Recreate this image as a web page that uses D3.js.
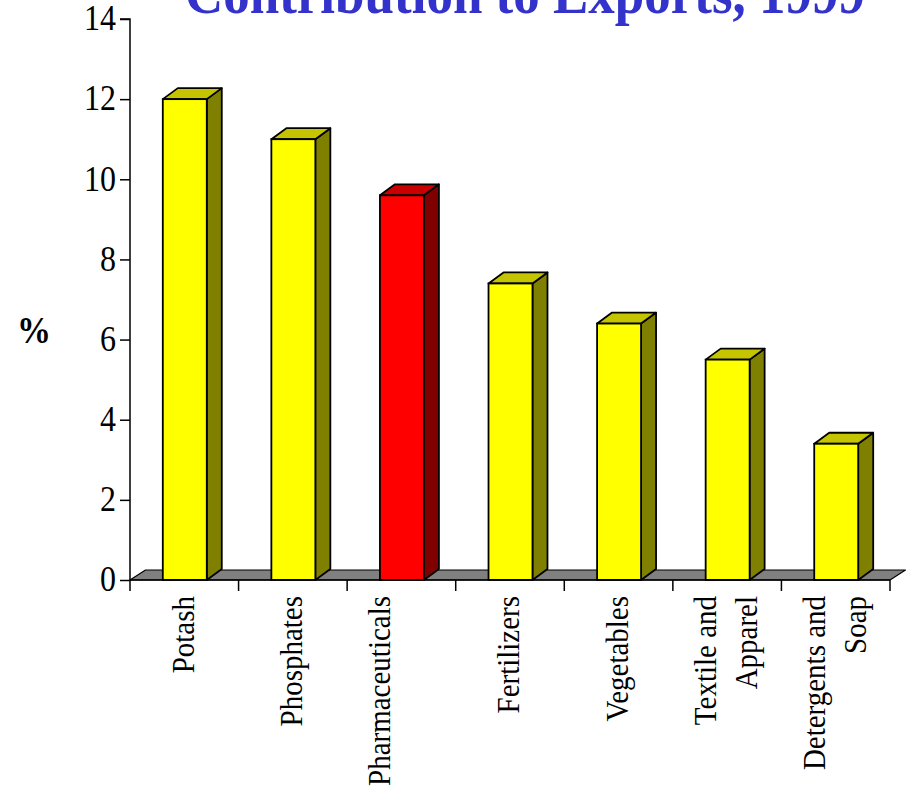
<!DOCTYPE html>
<html>
<head>
<meta charset="utf-8">
<script src="https://cdn.jsdelivr.net/npm/d3@7"></script>
<style>
  html, body { margin: 0; padding: 0; background: #fff; }
  svg { display: block; }
</style>
</head>
<body>
<svg id="chart" width="911" height="791"></svg>
<script>
const categories = ["Potash", "Phosphates", "Pharmaceuticals", "Fertilizers", "Vegetables", "Textile and Apparel", "Detergents and Soap"];
const labelLines = [["Potash"], ["Phosphates"], ["Pharmaceuticals", ""], ["Fertilizers"], ["Vegetables"], ["Textile and", "Apparel"], ["Detergents and", "Soap"]];
const values = [12.0, 11.0, 9.6, 7.4, 6.4, 5.5, 3.4];
const highlighted = ["Pharmaceuticals"];
const yTicks = [0, 2, 4, 6, 8, 10, 12, 14];
const titleText = "Contribution to Exports, 1999";
const yAxisLabel = "%";

const svg = d3.select("#chart");
const serif = "'Liberation Serif', 'Times New Roman', serif";

const x0 = 130, x1 = 890, yBase = 580, yTop = 19;
const depthX = 15, depthY = 11, floorDX = 15.5, floorDY = 10;

const x = d3.scaleBand().domain(categories).range([x0, x1]).paddingInner(0).paddingOuter(0);
const y = d3.scaleLinear().domain([0, 14]).range([yBase, yTop]);

// Title (clipped at the top like the reference)
svg.append("text")
  .attr("transform", "translate(525,13) scale(1,1.1)")
  .attr("text-anchor", "middle")
  .attr("font-family", serif)
  .attr("font-weight", "bold")
  .attr("font-size", 53)
  .attr("fill", "#3333cc")
  .text(titleText);

// Floor
const fl = [[x0, yBase], [x1, yBase], [x1 + floorDX, yBase - floorDY], [x0 + floorDX, yBase - floorDY]];
svg.append("path")
  .attr("d", d3.line()(fl) + "Z")
  .attr("fill", "#808080")
  .attr("stroke", "#000")
  .attr("stroke-width", 1.2)
  .attr("stroke-linejoin", "round");

// Bars
const barW = x.bandwidth() * 0.405;
const colors = {
  normal: { front: "#ffff00", top: "#c4c400", side: "#808000" },
  hi: { front: "#ff0000", top: "#c80000", side: "#800000" }
};
const bars = svg.append("g").selectAll("g").data(categories).join("g");
bars.each(function(c, i) {
  const g = d3.select(this);
  const col = highlighted.includes(c) ? colors.hi : colors.normal;
  const bx = x(c) + x.bandwidth() / 2 - barW / 2 + 0.5;
  const by = y(values[i]);
  const side = [[bx + barW, yBase], [bx + barW + depthX, yBase - depthY], [bx + barW + depthX, by - depthY], [bx + barW, by]];
  const top = [[bx, by], [bx + depthX, by - depthY], [bx + barW + depthX, by - depthY], [bx + barW, by]];
  g.append("path").attr("d", d3.line()(side) + "Z").attr("fill", col.side)
    .attr("stroke", "#000").attr("stroke-width", 1.8).attr("stroke-linejoin", "round");
  g.append("path").attr("d", d3.line()(top) + "Z").attr("fill", col.top)
    .attr("stroke", "#000").attr("stroke-width", 1.8).attr("stroke-linejoin", "round");
  g.append("rect").attr("x", bx).attr("y", by).attr("width", barW).attr("height", yBase - by)
    .attr("fill", col.front).attr("stroke", "#000").attr("stroke-width", 1.8);
});

// Y axis
const yAxis = svg.append("g").attr("transform", `translate(${x0},0)`)
  .call(d3.axisLeft(y).tickValues(yTicks).tickSize(10).tickPadding(4).tickFormat(d3.format("d")));
yAxis.select(".domain").attr("stroke", "#000").attr("stroke-width", 1.5).attr("d", `M-10,${yTop}H0V${yBase}`);
yAxis.selectAll(".tick line").attr("stroke", "#000").attr("stroke-width", 1.5);
yAxis.selectAll(".tick text").attr("font-family", serif).attr("font-size", 32).attr("fill", "#000")
  .attr("transform", "scale(1,1.12)").attr("dy", "0.3em");

// X axis (band boundaries as ticks)
const boundaries = categories.map(c => x(c)).concat([x1]);
const xAxis = svg.append("g");
xAxis.append("line").attr("x1", x0).attr("x2", x1).attr("y1", yBase).attr("y2", yBase)
  .attr("stroke", "#000").attr("stroke-width", 1.5);
xAxis.selectAll("line.tk").data(boundaries).join("line").attr("class", "tk")
  .attr("x1", d => d).attr("x2", d => d).attr("y1", yBase).attr("y2", yBase + 11)
  .attr("stroke", "#000").attr("stroke-width", 1.5);

// X labels, rotated
const lh = 41;
const lab = svg.append("g").selectAll("g").data(categories).join("g")
  .attr("transform", c => `translate(${x(c) + x.bandwidth() / 2 - 1},596) rotate(-90)`);
lab.each(function(c, i) {
  const lines = labelLines[i];
  const n = lines.length;
  d3.select(this).selectAll("text").data(lines).join("text")
    .attr("transform", (d, j) => `translate(0,${(j - (n - 1) / 2) * lh}) scale(1,1.12)`)
    .attr("dy", "0.32em")
    .attr("text-anchor", "end")
    .attr("font-family", serif)
    .attr("font-size", 29)
    .attr("fill", "#000")
    .text(d => d);
});

// Y axis label
svg.append("text")
  .attr("transform", "translate(34,343) scale(1,1.1)")
  .attr("text-anchor", "middle")
  .attr("font-family", serif)
  .attr("font-weight", "bold")
  .attr("font-size", 34)
  .attr("fill", "#000")
  .text(yAxisLabel);
</script>
</body>
</html>
